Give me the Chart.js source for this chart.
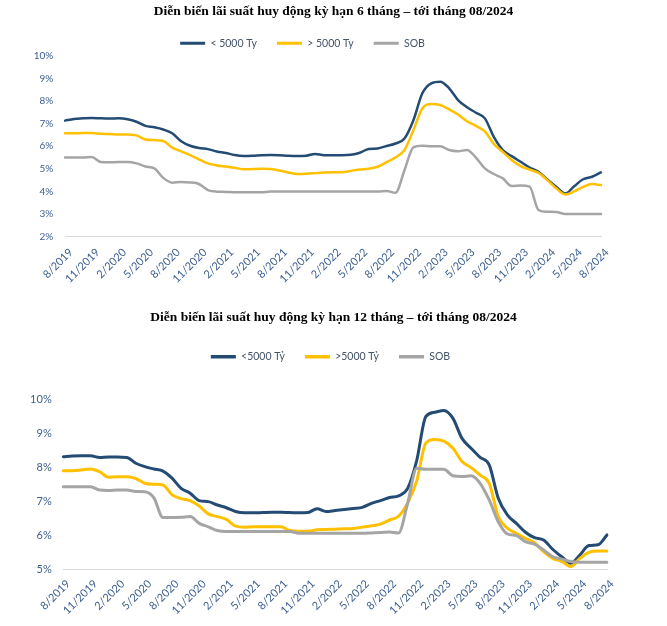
<!DOCTYPE html>
<html><head><meta charset="utf-8">
<script src="https://cdn.jsdelivr.net/npm/chart.js@4.4.1/dist/chart.umd.min.js"></script>
<style>
html,body{margin:0;padding:0;background:#fff;}
#w1{position:absolute;left:0;top:0;width:667px;height:300px;}
#w2{position:absolute;left:0;top:300px;width:667px;height:326px;}
</style></head><body>
<div id="w1"><canvas id="c1" width="667" height="300"></canvas></div>
<div id="w2"><canvas id="c2" width="667" height="326"></canvas></div>
<script>
const months = ['8/2019','9/2019','10/2019','11/2019','12/2019','1/2020','2/2020','3/2020','4/2020','5/2020','6/2020','7/2020','8/2020','9/2020','10/2020','11/2020','12/2020','1/2021','2/2021','3/2021','4/2021','5/2021','6/2021','7/2021','8/2021','9/2021','10/2021','11/2021','12/2021','1/2022','2/2022','3/2022','4/2022','5/2022','6/2022','7/2022','8/2022','9/2022','10/2022','11/2022','12/2022','1/2023','2/2023','3/2023','4/2023','5/2023','6/2023','7/2023','8/2023','9/2023','10/2023','11/2023','12/2023','1/2024','2/2024','3/2024','4/2024','5/2024','6/2024','7/2024','8/2024'];

const title6 = 'Diễn biến lãi suất huy động kỳ hạn 6 tháng – tới tháng 08/2024';
const title12 = 'Diễn biến lãi suất huy động kỳ hạn 12 tháng – tới tháng 08/2024';
const names6 = ['< 5000 Ty', '> 5000 Ty', 'SOB'];
const names12 = ['<5000 Tỷ', '>5000 Tỷ', 'SOB'];

// 6-month deposit rates (%)
const small6 = [7.13,7.2,7.23,7.25,7.23,7.22,7.23,7.19,7.08,6.9,6.84,6.74,6.57,6.22,6.02,5.92,5.87,5.77,5.7,5.61,5.57,5.58,5.6,5.61,5.6,5.58,5.57,5.58,5.66,5.6,5.6,5.6,5.62,5.71,5.88,5.9,6.01,6.12,6.34,7.15,8.34,8.78,8.85,8.56,8.04,7.72,7.48,7.23,6.41,5.83,5.56,5.31,5.06,4.87,4.53,4.2,3.91,4.23,4.54,4.65,4.84];
const large6 = [6.57,6.57,6.58,6.58,6.55,6.54,6.52,6.52,6.48,6.3,6.27,6.23,5.94,5.77,5.61,5.42,5.24,5.15,5.1,5.05,4.98,4.99,5.0,4.99,4.93,4.84,4.77,4.78,4.81,4.84,4.85,4.85,4.91,4.97,5.0,5.09,5.3,5.5,5.83,6.71,7.67,7.86,7.82,7.63,7.4,7.1,6.9,6.65,6.1,5.75,5.39,5.12,4.97,4.82,4.5,4.13,3.87,4.0,4.2,4.33,4.28];
const sob6 = [5.5,5.5,5.5,5.52,5.3,5.29,5.3,5.3,5.24,5.1,5.02,4.6,4.39,4.42,4.4,4.33,4.06,3.99,3.98,3.96,3.96,3.96,3.96,4.0,4.0,4.0,4.0,4.0,4.0,4.0,4.0,4.0,4.0,4.0,4.0,4.0,4.02,3.94,4.94,5.95,6.02,6.0,6.0,5.83,5.78,5.83,5.5,5.02,4.77,4.58,4.24,4.26,4.21,3.18,3.1,3.09,3.0,3.0,3.0,3.0,3.0];

// 12-month deposit rates (%)
const small12 = [8.31,8.33,8.34,8.34,8.29,8.3,8.3,8.29,8.12,8.02,7.95,7.89,7.68,7.38,7.24,7.02,6.99,6.89,6.81,6.7,6.66,6.66,6.67,6.68,6.68,6.67,6.66,6.67,6.78,6.7,6.73,6.76,6.79,6.82,6.94,7.02,7.11,7.16,7.38,8.2,9.49,9.62,9.67,9.44,8.85,8.56,8.29,8.07,7.09,6.6,6.35,6.09,5.93,5.86,5.59,5.37,5.18,5.42,5.7,5.72,6.01];
const large12 = [7.9,7.9,7.92,7.95,7.87,7.71,7.72,7.72,7.67,7.53,7.5,7.48,7.19,7.08,7.02,6.86,6.63,6.55,6.47,6.27,6.24,6.25,6.25,6.25,6.25,6.14,6.12,6.12,6.16,6.17,6.18,6.19,6.2,6.24,6.28,6.33,6.45,6.56,6.95,7.6,8.71,8.82,8.77,8.56,8.17,7.99,7.77,7.53,6.55,6.21,6.06,5.91,5.78,5.52,5.32,5.23,5.08,5.32,5.5,5.54,5.54];
const sob12 = [7.43,7.43,7.43,7.43,7.33,7.32,7.33,7.33,7.29,7.28,7.1,6.52,6.52,6.53,6.55,6.35,6.25,6.14,6.11,6.11,6.11,6.11,6.11,6.11,6.11,6.11,6.06,6.06,6.06,6.06,6.06,6.06,6.06,6.06,6.07,6.08,6.1,6.07,6.94,7.97,7.94,7.94,7.94,7.75,7.73,7.75,7.53,7.04,6.4,6.04,5.99,5.81,5.74,5.57,5.37,5.3,5.23,5.21,5.21,5.21,5.21];

const colors = ['#234B74', '#FFC000', '#A5A5A5'];
const tickColor = '#3D5F8F';
const legendColor = '#44546A';

const legendTweak = {
  id: 'legendTweak',
  beforeLayout(chart, args, opts) {
    const lg = chart.legend;
    if (lg && !lg._tweaked) {
      const fit = lg.fit;
      lg.fit = function () { fit.call(this); this.height += (opts.dh || 0); };
      lg._tweaked = true;
    }
  },
  afterLayout(chart, args, opts) {
    const lg = chart.legend;
    if (!lg) return;
    const dx = opts.dx || 0, dy = opts.dy || 0;
    lg.left += dx; lg.right += dx; lg.top += dy; lg.bottom += dy;
  }
};

function makeChart(id, o) {
  return new Chart(document.getElementById(id), {
    type: 'line',
    data: {
      labels: months,
      datasets: o.series.map((d, i) => ({
        label: o.names[i], data: d,
        borderColor: colors[i], backgroundColor: colors[i],
        borderWidth: o.lw, pointRadius: 0, pointHoverRadius: 0,
        cubicInterpolationMode: 'monotone', borderJoinStyle: 'round', borderCapStyle: 'round',
        fill: false, order: 3 - i
      }))
    },
    options: {
      responsive: false, animation: false, devicePixelRatio: 1,
      layout: { padding: 0 },
      events: [],
      plugins: {
        title: {
          display: true, text: o.title, color: '#000',
          font: { family: 'Liberation Serif', weight: 'bold', size: o.titleSize },
          padding: { top: o.tpt, bottom: o.tpb }
        },
        legend: {
          display: true, position: 'top',
          labels: {
            boxWidth: 25, boxHeight: o.lbh, padding: 20, color: legendColor,
            font: { family: 'Lato', size: 10.5 },
            sort: (a, b) => a.datasetIndex - b.datasetIndex,
            generateLabels(chart) {
              return Chart.defaults.plugins.legend.labels.generateLabels(chart)
                .map(l => Object.assign({}, l, { fillStyle: l.strokeStyle, lineWidth: 0 }));
            }
          }
        },
        tooltip: { enabled: false },
        legendTweak: { dx: o.ldx, dy: o.ldy, dh: o.ldh }
      },
      scales: {
        x: {
          type: 'category', offset: false,
          grid: { display: false, drawTicks: false },
          border: { display: true, color: '#D9D9D9', width: 1 },
          ticks: {
            autoSkip: false, maxRotation: 45, minRotation: 45, padding: o.xpad, labelOffset: o.xoff,
            color: tickColor, font: { family: 'Lato', size: o.xfs },
            callback(v, i) { return i % 3 === 0 ? this.getLabelForValue(v) : null; }
          },
          afterFit(s) { s.height = o.xh; }
        },
        y: {
          min: o.ymin, max: o.ymax,
          grid: { display: false, drawTicks: false },
          border: { display: false },
          ticks: {
            stepSize: 1, padding: o.ypad, color: tickColor,
            font: { family: 'Lato', size: o.yfs },
            callback: v => v + '%'
          },
          afterFit(s) { s.width = o.yw; }
        },
        y2: {
          position: 'right', display: true,
          grid: { display: false, drawTicks: false },
          border: { display: false },
          ticks: { display: false },
          afterFit(s) { s.width = o.y2w; }
        }
      }
    },
    plugins: [legendTweak]
  });
}

makeChart('c1', {
  title: title6, names: names6, series: [small6, large6, sob6],
  titleSize: 13.5, tpt: 3.9, tpb: 0, lbh: 3, ldx: -31, ldy: -2.05, ldh: -4.9,
  xh: 63.3, yw: 65, y2w: 66, ymin: 2, ymax: 10, yfs: 10, xfs: 11, lw: 2.5, xpad: 9, xoff: 6, ypad: 11.7
});
makeChart('c2', {
  title: title12, names: names12, series: [small12, large12, sob12],
  titleSize: 13.5, tpt: 9.9, tpb: 5.35, lbh: 3.5, ldx: -3, ldy: 0, ldh: 27.35,
  xh: 56.7, yw: 63.3, y2w: 60, ymin: 5, ymax: 10, yfs: 11, xfs: 11, lw: 3, xpad: 8, xoff: 5, ypad: 11.6
});
</script>
</body></html>
